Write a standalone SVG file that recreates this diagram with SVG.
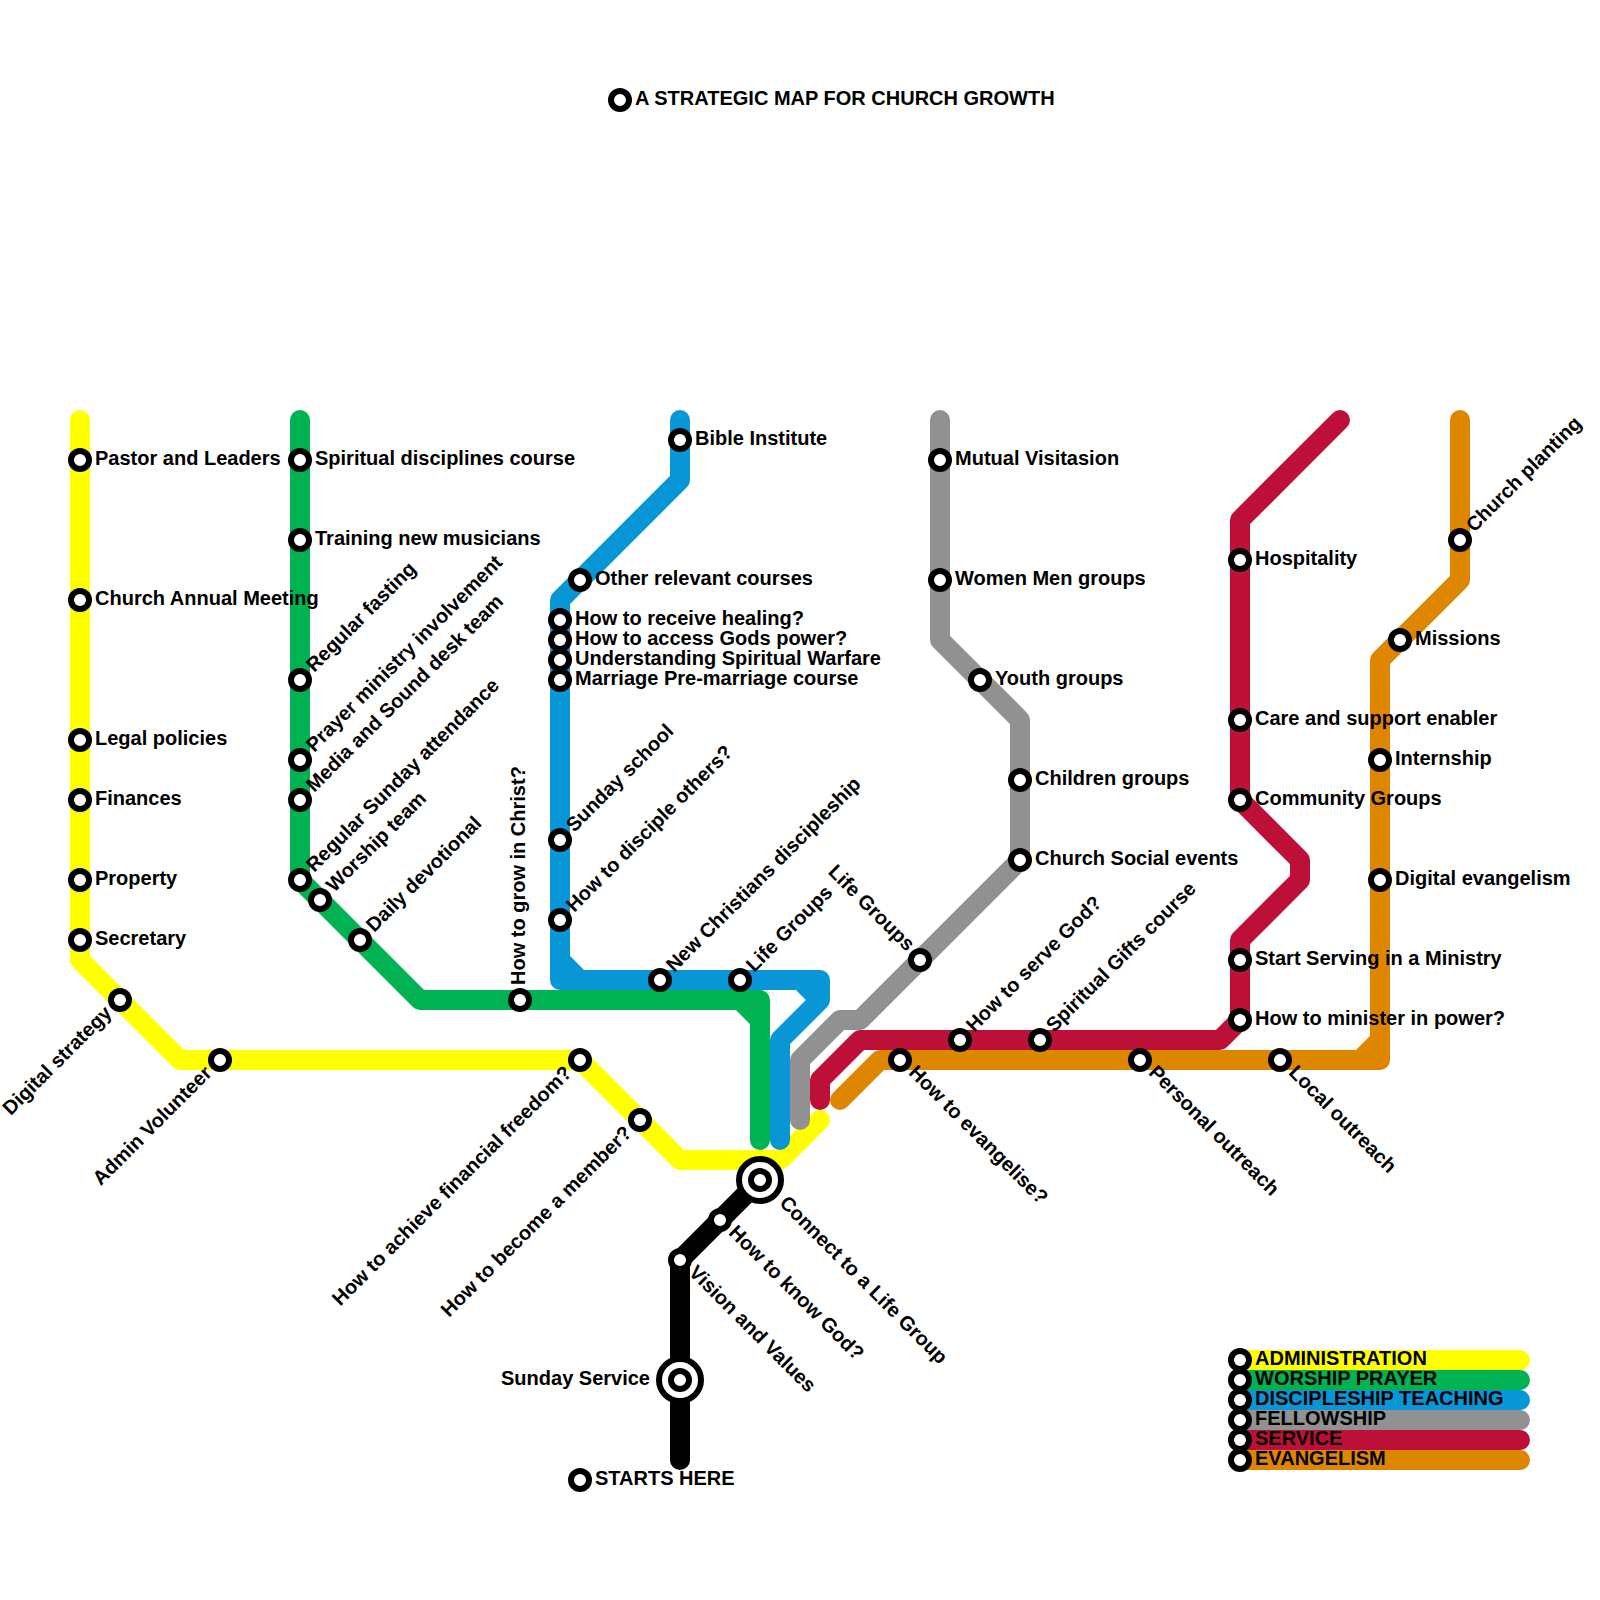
<svg xmlns="http://www.w3.org/2000/svg" width="1600" height="1600" viewBox="0 0 1600 1600">
<style>
.l{fill:none;stroke-width:20;stroke-linecap:round;stroke-linejoin:round}
.s{fill:#fff;stroke:#000;stroke-width:6}
.b{fill:#fff;stroke:#000;stroke-width:6}
text{font-family:"Liberation Sans",Arial,sans-serif;font-size:20px;font-weight:bold;fill:#000}
.e{text-anchor:end}
</style>
<rect width="1600" height="1600" fill="#fff"/>
<g id="connectors">
<path class="l" stroke="#ffff00" d="M80 420V960L180 1060H580L680 1160H780L820 1120"/>
<path class="l" stroke="#00b251" d="M300 420V880L420 1000H760V1140M740 1000L760 1020"/>
<path class="l" stroke="#0896d7" d="M680 420V480L560 600V980H820V1000L780 1040V1140M560 960L580 980M800 980L820 1000"/>
<path class="l" stroke="#919191" d="M940 420V640L1020 720V860L860 1020H840L800 1060V1120"/>
<path class="l" stroke="#bd1038" d="M1340 420L1240 520V800L1300 860V880L1240 940V1020L1220 1040H860L820 1080V1100"/>
<path class="l" stroke="#df8600" d="M1460 420V580L1380 660V1060H880L840 1100M1380 1040L1360 1060"/>
<path class="l" stroke="#000" d="M680 1460V1260L760 1180"/>
<path class="l" stroke="#ffff00" d="M1240 1360H1520"/>
<path class="l" stroke="#00b251" d="M1240 1380H1520"/>
<path class="l" stroke="#0896d7" d="M1240 1400H1520"/>
<path class="l" stroke="#919191" d="M1240 1420H1520"/>
<path class="l" stroke="#bd1038" d="M1240 1440H1520"/>
<path class="l" stroke="#df8600" d="M1240 1460H1520"/>
</g>
<g id="title"><circle class="s" cx="620" cy="100" r="9"/><text x="635" y="105">A STRATEGIC MAP FOR CHURCH GROWTH</text></g>
<g id="y1"><circle class="s" cx="80" cy="460" r="9"/><text x="95" y="465">Pastor and Leaders</text></g>
<g id="y2"><circle class="s" cx="80" cy="600" r="9"/><text x="95" y="605">Church Annual Meeting</text></g>
<g id="y3"><circle class="s" cx="80" cy="740" r="9"/><text x="95" y="745">Legal policies</text></g>
<g id="y4"><circle class="s" cx="80" cy="800" r="9"/><text x="95" y="805">Finances</text></g>
<g id="y5"><circle class="s" cx="80" cy="880" r="9"/><text x="95" y="885">Property</text></g>
<g id="y6"><circle class="s" cx="80" cy="940" r="9"/><text x="95" y="945">Secretary</text></g>
<g id="y7"><circle class="s" cx="120" cy="1000" r="9"/><text class="e" x="105" y="1005" transform="rotate(-45 120 1000)">Digital strategy</text></g>
<g id="y8"><circle class="s" cx="220" cy="1060" r="9"/><text class="e" x="205" y="1065" transform="rotate(-45 220 1060)">Admin Volunteer</text></g>
<g id="y9"><circle class="s" cx="580" cy="1060" r="9"/><text class="e" x="565" y="1065" transform="rotate(-45 580 1060)">How to achieve financial freedom?</text></g>
<g id="y10"><circle class="s" cx="640" cy="1120" r="9"/><text class="e" x="625" y="1125" transform="rotate(-45 640 1120)">How to become a member?</text></g>
<g id="g1"><circle class="s" cx="300" cy="460" r="9"/><text x="315" y="465">Spiritual disciplines course</text></g>
<g id="g2"><circle class="s" cx="300" cy="540" r="9"/><text x="315" y="545">Training new musicians</text></g>
<g id="g3"><circle class="s" cx="300" cy="680" r="9"/><text x="315" y="685" transform="rotate(-45 300 680)">Regular fasting</text></g>
<g id="g4"><circle class="s" cx="300" cy="760" r="9"/><text x="315" y="765" transform="rotate(-45 300 760)">Prayer ministry involvement</text></g>
<g id="g5"><circle class="s" cx="300" cy="800" r="9"/><text x="315" y="805" transform="rotate(-45 300 800)">Media and Sound desk team</text></g>
<g id="g6"><circle class="s" cx="300" cy="880" r="9"/><text x="315" y="885" transform="rotate(-45 300 880)">Regular Sunday attendance</text></g>
<g id="g7"><circle class="s" cx="320" cy="900" r="9"/><text x="335" y="905" transform="rotate(-45 320 900)">Worship team</text></g>
<g id="g8"><circle class="s" cx="360" cy="940" r="9"/><text x="375" y="945" transform="rotate(-45 360 940)">Daily devotional</text></g>
<g id="g9"><circle class="s" cx="520" cy="1000" r="9"/><text x="535" y="1005" transform="rotate(-90 520 1000)">How to grow in Christ?</text></g>
<g id="b1"><circle class="s" cx="680" cy="440" r="9"/><text x="695" y="445">Bible Institute</text></g>
<g id="b2"><circle class="s" cx="580" cy="580" r="9"/><text x="595" y="585">Other relevant courses</text></g>
<g id="b3"><circle class="s" cx="560" cy="620" r="9"/><text x="575" y="625">How to receive healing?</text></g>
<g id="b4"><circle class="s" cx="560" cy="640" r="9"/><text x="575" y="645">How to access Gods power?</text></g>
<g id="b5"><circle class="s" cx="560" cy="660" r="9"/><text x="575" y="665">Understanding Spiritual Warfare</text></g>
<g id="b6"><circle class="s" cx="560" cy="680" r="9"/><text x="575" y="685">Marriage Pre-marriage course</text></g>
<g id="b7"><circle class="s" cx="560" cy="840" r="9"/><text x="575" y="845" transform="rotate(-45 560 840)">Sunday school</text></g>
<g id="b8"><circle class="s" cx="560" cy="920" r="9"/><text x="575" y="925" transform="rotate(-45 560 920)">How to disciple others?</text></g>
<g id="b9"><circle class="s" cx="660" cy="980" r="9"/><text x="675" y="985" transform="rotate(-45 660 980)">New Christians discipleship</text></g>
<g id="b10"><circle class="s" cx="740" cy="980" r="9"/><text x="755" y="985" transform="rotate(-45 740 980)">Life Groups</text></g>
<g id="f1"><circle class="s" cx="940" cy="460" r="9"/><text x="955" y="465">Mutual Visitasion</text></g>
<g id="f2"><circle class="s" cx="940" cy="580" r="9"/><text x="955" y="585">Women Men groups</text></g>
<g id="f3"><circle class="s" cx="980" cy="680" r="9"/><text x="995" y="685">Youth groups</text></g>
<g id="f4"><circle class="s" cx="1020" cy="780" r="9"/><text x="1035" y="785">Children groups</text></g>
<g id="f5"><circle class="s" cx="1020" cy="860" r="9"/><text x="1035" y="865">Church Social events</text></g>
<g id="f6"><circle class="s" cx="920" cy="960" r="9"/><text class="e" x="905" y="964" transform="rotate(45 920 960)">Life Groups</text></g>
<g id="r1"><circle class="s" cx="1240" cy="560" r="9"/><text x="1255" y="565">Hospitality</text></g>
<g id="r2"><circle class="s" cx="1240" cy="720" r="9"/><text x="1255" y="725">Care and support enabler</text></g>
<g id="r3"><circle class="s" cx="1240" cy="800" r="9"/><text x="1255" y="805">Community Groups</text></g>
<g id="r4"><circle class="s" cx="1240" cy="960" r="9"/><text x="1255" y="965">Start Serving in a Ministry</text></g>
<g id="r5"><circle class="s" cx="1240" cy="1020" r="9"/><text x="1255" y="1025">How to minister in power?</text></g>
<g id="r6"><circle class="s" cx="960" cy="1040" r="9"/><text x="975" y="1045" transform="rotate(-45 960 1040)">How to serve God?</text></g>
<g id="r7"><circle class="s" cx="1040" cy="1040" r="9"/><text x="1055" y="1045" transform="rotate(-45 1040 1040)">Spiritual Gifts course</text></g>
<g id="o1"><circle class="s" cx="1460" cy="540" r="9"/><text x="1475" y="545" transform="rotate(-45 1460 540)">Church planting</text></g>
<g id="o2"><circle class="s" cx="1400" cy="640" r="9"/><text x="1415" y="645">Missions</text></g>
<g id="o3"><circle class="s" cx="1380" cy="760" r="9"/><text x="1395" y="765">Internship</text></g>
<g id="o4"><circle class="s" cx="1380" cy="880" r="9"/><text x="1395" y="885">Digital evangelism</text></g>
<g id="o5"><circle class="s" cx="900" cy="1060" r="9"/><text x="915" y="1064" transform="rotate(45 900 1060)">How to evangelise?</text></g>
<g id="o6"><circle class="s" cx="1140" cy="1060" r="9"/><text x="1155" y="1064" transform="rotate(45 1140 1060)">Personal outreach</text></g>
<g id="o7"><circle class="s" cx="1280" cy="1060" r="9"/><text x="1295" y="1064" transform="rotate(45 1280 1060)">Local outreach</text></g>
<g id="k1"><circle class="b" cx="760" cy="1180" r="21"/><circle class="s" cx="760" cy="1180" r="9"/><text x="790" y="1184" transform="rotate(45 760 1180)">Connect to a Life Group</text></g>
<g id="k2"><circle class="s" cx="720" cy="1220" r="9"/><text x="735" y="1224" transform="rotate(45 720 1220)">How to know God?</text></g>
<g id="k3"><circle class="s" cx="680" cy="1260" r="9"/><text x="695" y="1264" transform="rotate(45 680 1260)">Vision and Values</text></g>
<g id="k4"><circle class="b" cx="680" cy="1380" r="21"/><circle class="s" cx="680" cy="1380" r="9"/><text class="e" x="650" y="1385">Sunday Service</text></g>
<g id="k5"><circle class="s" cx="580" cy="1480" r="9"/><text x="595" y="1485">STARTS HERE</text></g>
<g id="leg1"><circle class="s" cx="1240" cy="1360" r="9"/><text x="1255" y="1365">ADMINISTRATION</text></g>
<g id="leg2"><circle class="s" cx="1240" cy="1380" r="9"/><text x="1255" y="1385">WORSHIP PRAYER</text></g>
<g id="leg3"><circle class="s" cx="1240" cy="1400" r="9"/><text x="1255" y="1405">DISCIPLESHIP TEACHING</text></g>
<g id="leg4"><circle class="s" cx="1240" cy="1420" r="9"/><text x="1255" y="1425">FELLOWSHIP</text></g>
<g id="leg5"><circle class="s" cx="1240" cy="1440" r="9"/><text x="1255" y="1445">SERVICE</text></g>
<g id="leg6"><circle class="s" cx="1240" cy="1460" r="9"/><text x="1255" y="1465">EVANGELISM</text></g>
</svg>
